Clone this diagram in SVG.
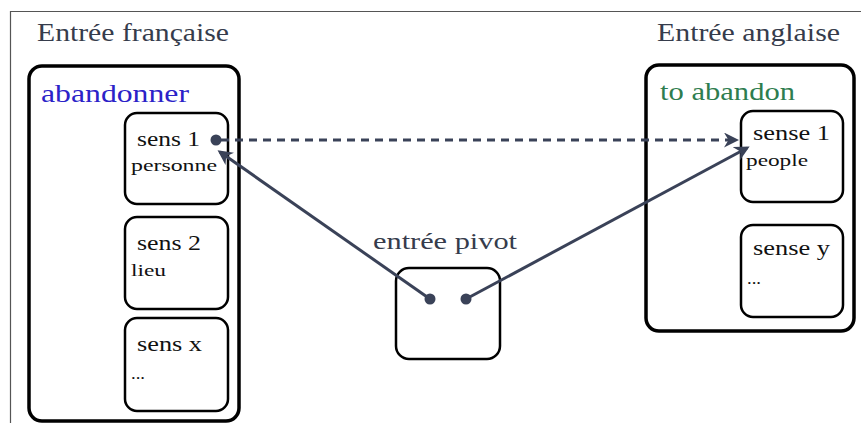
<svg xmlns="http://www.w3.org/2000/svg" width="861" height="423" viewBox="0 0 861 423">
<style>
.t{font-family:"Liberation Serif","DejaVu Serif",serif;}
.title{font-size:25px;fill:#363c4c;}
.outer{fill:none;stroke:#000;stroke-width:3.5;}
.inner{fill:#fff;stroke:#000;stroke-width:2.5;}
.s{font-size:21px;fill:#111;}
.sm{font-size:17px;fill:#111;}
.conn{stroke:#3a4258;stroke-width:3;fill:none;}
.dot{fill:#3a4258;}
</style>
<defs>
<marker id="ah" viewBox="0 0 10 10" refX="8" refY="5" markerWidth="5" markerHeight="5" orient="auto" markerUnits="strokeWidth">
<path d="M0,0 L10,5 L0,10 L3,5 Z" fill="#3a4258"/>
</marker>
</defs>
<rect x="0" y="0" width="861" height="423" fill="#fff"/>
<path d="M10.5,423 V11.5 H861" fill="none" stroke="#555" stroke-width="1.2"/>
<text class="t title" x="37" y="41" textLength="192" lengthAdjust="spacingAndGlyphs">Entrée française</text>
<text class="t title" x="657" y="41" textLength="183" lengthAdjust="spacingAndGlyphs">Entrée anglaise</text>
<g id="fr-entry">
<rect class="outer" x="29" y="66" width="210" height="355" rx="13"/>
<text class="t" x="41" y="102" font-size="25" fill="#2b22c8" textLength="148" lengthAdjust="spacingAndGlyphs">abandonner</text>
</g>
<g id="fr-sens1">
<rect class="inner" x="125" y="113" width="103" height="91" rx="12"/>
<text class="t s" x="137" y="146" textLength="63" lengthAdjust="spacingAndGlyphs">sens 1</text>
<text class="t sm" x="131" y="171" textLength="86" lengthAdjust="spacingAndGlyphs">personne</text>
</g>
<g id="fr-sens2">
<rect class="inner" x="125" y="217" width="103" height="92" rx="12"/>
<text class="t s" x="137" y="250" textLength="64" lengthAdjust="spacingAndGlyphs">sens 2</text>
<text class="t sm" x="131" y="276" textLength="35" lengthAdjust="spacingAndGlyphs">lieu</text>
</g>
<g id="fr-sensx">
<rect class="inner" x="125" y="318" width="103" height="93" rx="12"/>
<text class="t s" x="137" y="351" textLength="65" lengthAdjust="spacingAndGlyphs">sens x</text>
<text class="t sm" x="131" y="379" textLength="14" lengthAdjust="spacingAndGlyphs">...</text>
</g>
<g id="en-entry">
<rect class="outer" x="646" y="65" width="208" height="266" rx="13"/>
<text class="t" x="660" y="100" font-size="25" fill="#2e7d4f" textLength="135" lengthAdjust="spacingAndGlyphs">to abandon</text>
</g>
<g id="en-sense1">
<rect class="inner" x="741" y="111" width="102" height="91" rx="12"/>
<text class="t s" x="753" y="140" textLength="77" lengthAdjust="spacingAndGlyphs">sense 1</text>
<text class="t sm" x="746" y="166" textLength="62" lengthAdjust="spacingAndGlyphs">people</text>
</g>
<g id="en-sensey">
<rect class="inner" x="741" y="225" width="102" height="92" rx="12"/>
<text class="t s" x="753" y="255" textLength="77" lengthAdjust="spacingAndGlyphs">sense y</text>
<text class="t sm" x="747" y="284" textLength="14" lengthAdjust="spacingAndGlyphs">...</text>
</g>
<g id="pivot">
<text class="t" x="373" y="249" font-size="24" fill="#363c4c" textLength="144" lengthAdjust="spacingAndGlyphs">entrée pivot</text>
<rect class="inner" x="396" y="268" width="104" height="91" rx="13" stroke-width="3"/>
</g>
<g id="connectors">
<line class="conn" x1="221" y1="140" x2="736" y2="140" stroke-dasharray="8,6" marker-end="url(#ah)"/>
<line class="conn" x1="430" y1="299" x2="220" y2="152" marker-end="url(#ah)"/>
<line class="conn" x1="466" y1="299" x2="747" y2="148" marker-end="url(#ah)"/>
<circle class="dot" cx="216" cy="140" r="5.5"/>
<circle class="dot" cx="430" cy="299" r="5.5"/>
<circle class="dot" cx="466" cy="299" r="5.5"/>
</g>
</svg>
